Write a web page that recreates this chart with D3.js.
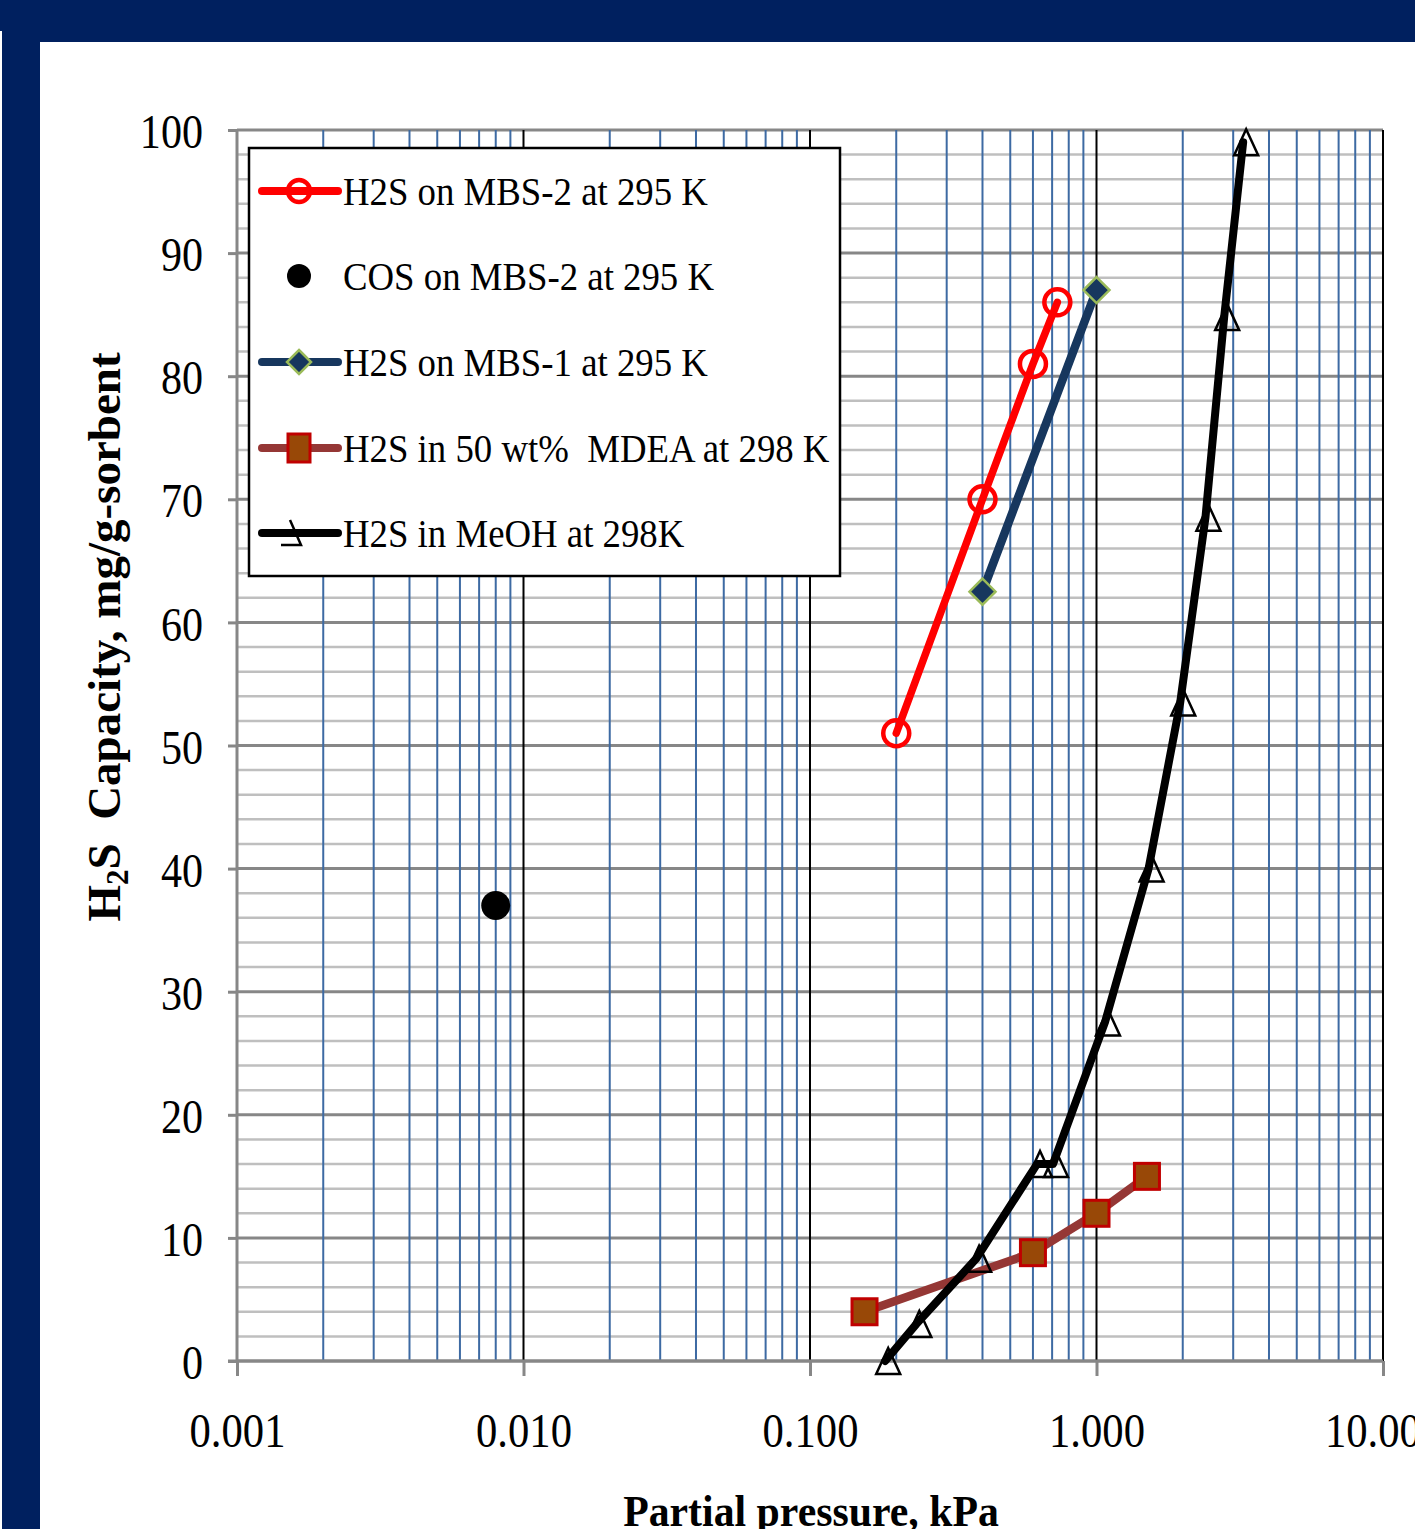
<!DOCTYPE html>
<head lang="en">
<meta charset="utf-8">
<title>H2S capacity vs partial pressure</title>
<style>
body { margin:0; }
svg { display:block; }
text { font-family:"Liberation Serif","Times New Roman",serif; fill:#000; }
</style>
<script src="https://cdn.jsdelivr.net/npm/d3@7"></script>
</head>
<body>
<script>
// values
var mbs2P = [0.2, 0.4, 0.6, 0.73],
    mbs2C = [51, 70, 81, 86];
var cosP = [0.008],
    cosC = [37];
var mbs1P = [0.4, 1.0],
    mbs1C = [62.5, 87];
var mdeaP = [0.155, 0.6, 1.0, 1.5],
    mdeaC = [4, 8.8, 12, 15];
var meohP = [0.183, 0.235, 0.38, 0.62, 0.705, 1.07, 1.52, 1.96, 2.4, 2.79, 3.25],
    meohC = [0, 3, 8.3, 16, 16, 27.5, 40, 53.5, 68.5, 84.8, 99];

var pressureTicks = [0.001, 0.01, 0.1, 1, 10],
    pressureLabels = ["0.001", "0.010", "0.100", "1.000", "10.000"];
var capacityTicks = [0, 10, 20, 30, 40, 50, 60, 70, 80, 90, 100];
var legendLabels = ["H2S on MBS-2 at 295 K", "COS on MBS-2 at 295 K", "H2S on MBS-1 at 295 K",
                    "H2S in 50 wt%  MDEA at 298 K", "H2S in MeOH at 298K"];

var width = 1415, height = 1529;
var pLeft = 237, pRight = 1383, pTop = 130, pBottom = 1361;

var svg = d3.select("body").append("svg")
    .attr("width", width)
    .attr("height", height);

// navy frame
svg.append("rect").attr("width", width).attr("height", height).attr("fill", "#00205f");
svg.append("rect").attr("x", 0).attr("y", 31).attr("width", 2).attr("height", height).attr("fill", "#fff");
svg.append("rect").attr("x", 40).attr("y", 42).attr("width", width).attr("height", height).attr("fill", "#fff");

var x = d3.scaleLog().domain([0.001, 10]).range([pLeft, pRight]);
var y = d3.scaleLinear().domain([0, 100]).range([pBottom, pTop]);

// horizontal grid
var yMinor = d3.range(0, 101, 2).filter(function(v) { return v % 10 != 0; });
svg.append("g").selectAll("line").data(yMinor).enter().append("line")
    .attr("x1", pLeft).attr("x2", pRight)
    .attr("y1", function(d) { return y(d); }).attr("y2", function(d) { return y(d); })
    .style("stroke", "#bfbfbf").style("stroke-width", "2.5px");
svg.append("g").selectAll("line").data(capacityTicks).enter().append("line")
    .attr("x1", pLeft).attr("x2", pRight)
    .attr("y1", function(d) { return y(d); }).attr("y2", function(d) { return y(d); })
    .style("stroke", "#878787").style("stroke-width", "3px");

// vertical grid: blue minor, black decades
var xMinor = x.ticks().filter(function(v) { return pressureTicks.indexOf(v) < 0; });
svg.append("g").selectAll("line").data(xMinor).enter().append("line")
    .attr("x1", function(d) { return x(d); }).attr("x2", function(d) { return x(d); })
    .attr("y1", pTop).attr("y2", pBottom)
    .style("stroke", "#3d6aa3").style("stroke-width", "2px");
svg.append("g").selectAll("line").data(pressureTicks.slice(1)).enter().append("line")
    .attr("x1", function(d) { return x(d); }).attr("x2", function(d) { return x(d); })
    .attr("y1", pTop).attr("y2", pBottom)
    .style("stroke", "#000").style("stroke-width", "2px");

// axes
var yAxis = svg.append("g").attr("transform", "translate(" + pLeft + ",0)")
    .call(d3.axisLeft(y).tickValues(capacityTicks).tickSize(9).tickPadding(0));
var xAxis = svg.append("g").attr("transform", "translate(0," + pBottom + ")")
    .call(d3.axisBottom(x).tickValues(pressureTicks).tickSize(15)
        .tickFormat(function(d, i) { return pressureLabels[i]; }));
[yAxis, xAxis].forEach(function(a) {
    a.select(".domain").style("stroke", "#878787").style("stroke-width", "3px");
    a.selectAll(".tick line").style("stroke", "#878787").style("stroke-width", "3px");
    a.selectAll("text").style("font-family", "'Liberation Serif', serif").style("font-size", "49px").attr("fill", "#000");
});
yAxis.select(".domain").attr("d", "M0," + pBottom + "V" + pTop);
xAxis.select(".domain").attr("d", "M" + (pLeft - 9) + ",0H" + pRight);
yAxis.selectAll("text").attr("x", -34 / 0.86).attr("dy", "0.36em").attr("transform", "scale(0.86,1)");
xAxis.selectAll("text").attr("y", 86).attr("dy", "0").attr("transform", "scale(0.87,1)");

// axis titles
var yTitle = svg.append("text")
    .attr("transform", "translate(120,637) rotate(-90)")
    .attr("text-anchor", "middle")
    .style("font-size", "47px").style("font-weight", "bold")
    .attr("xml:space", "preserve");
yTitle.append("tspan").text("H");
yTitle.append("tspan").text("2").style("font-size", "31px").attr("dy", 8);
yTitle.append("tspan").text("S  Capacity, mg/g-sorbent").attr("dy", -8);

svg.append("text")
    .attr("transform", "translate(811,1526) scale(0.95,1)")
    .attr("text-anchor", "middle")
    .style("font-size", "44px").style("font-weight", "bold")
    .text("Partial pressure, kPa");

// series
function pts(p, c) { return p.map(function(v, i) { return [x(v), y(c[i])]; }); }
var line = d3.line();

var plot = svg.append("g");
function triPath(cx, cy) {
    return "M" + cx + "," + (cy - 13) + "L" + (cx + 12) + "," + (cy + 13) + "L" + (cx - 12) + "," + (cy + 13) + "Z";
}
function diamond(cx, cy, r) {
    return "M" + cx + "," + (cy - r) + "L" + (cx + r) + "," + cy + "L" + cx + "," + (cy + r) + "L" + (cx - r) + "," + cy + "Z";
}

// H2S on MBS-2
plot.append("path").attr("d", line(pts(mbs2P, mbs2C)))
    .style("fill", "none").style("stroke", "#ff0000").style("stroke-width", "7.5px").style("stroke-linecap", "round");
plot.selectAll(".m2").data(pts(mbs2P, mbs2C)).enter().append("circle")
    .attr("cx", function(d) { return d[0]; }).attr("cy", function(d) { return d[1]; }).attr("r", 13)
    .style("fill", "none").style("stroke", "#ff0000").style("stroke-width", "4.5px");

// COS on MBS-2
plot.selectAll(".cos").data(pts(cosP, cosC)).enter().append("circle")
    .attr("cx", function(d) { return d[0]; }).attr("cy", function(d) { return d[1]; }).attr("r", 14.5)
    .style("fill", "#000");

// H2S on MBS-1
plot.append("path").attr("d", line(pts(mbs1P, mbs1C)))
    .style("fill", "none").style("stroke", "#17375e").style("stroke-width", "8.5px").style("stroke-linecap", "round");
plot.selectAll(".m1").data(pts(mbs1P, mbs1C)).enter().append("path")
    .attr("d", function(d) { return diamond(d[0], d[1], 13); })
    .style("fill", "#17375e").style("stroke", "#9bbb59").style("stroke-width", "2.5px");

// H2S in MDEA
plot.append("path").attr("d", line(pts(mdeaP, mdeaC)))
    .style("fill", "none").style("stroke", "#953735").style("stroke-width", "8.5px").style("stroke-linecap", "round");
plot.selectAll(".md").data(pts(mdeaP, mdeaC)).enter().append("rect")
    .attr("x", function(d) { return d[0] - 12.5; }).attr("y", function(d) { return d[1] - 13; })
    .attr("width", 25).attr("height", 26)
    .style("fill", "#984807").style("stroke", "#c00000").style("stroke-width", "3px");

// H2S in MeOH
plot.append("path").attr("d", line(pts(meohP, meohC)))
    .style("fill", "none").style("stroke", "#000").style("stroke-width", "8px")
    .style("stroke-linecap", "round").style("stroke-linejoin", "round");
plot.selectAll(".me").data(pts(meohP, meohC)).enter().append("path")
    .attr("d", function(d) { return triPath(d[0] + 3, d[1]); })
    .style("fill", "none").style("stroke", "#000").style("stroke-width", "2.5px");

// legend
var lg = svg.append("g");
lg.append("rect").attr("x", 249).attr("y", 148).attr("width", 591).attr("height", 428)
    .style("fill", "#fff").style("stroke", "#000").style("stroke-width", "2.5px");
var rowY = [191, 276, 362, 448, 533];
var sx1 = 262, sx2 = 338, mx = 299;
lg.append("line").attr("x1", sx1).attr("x2", sx2).attr("y1", rowY[0]).attr("y2", rowY[0])
    .style("stroke", "#ff0000").style("stroke-width", "8px").style("stroke-linecap", "round");
lg.append("circle").attr("cx", mx).attr("cy", rowY[0]).attr("r", 11)
    .style("fill", "none").style("stroke", "#ff0000").style("stroke-width", "4.5px");
lg.append("circle").attr("cx", mx).attr("cy", rowY[1]).attr("r", 12).style("fill", "#000");
lg.append("line").attr("x1", sx1).attr("x2", sx2).attr("y1", rowY[2]).attr("y2", rowY[2])
    .style("stroke", "#17375e").style("stroke-width", "8px").style("stroke-linecap", "round");
lg.append("path").attr("d", diamond(mx, rowY[2], 12))
    .style("fill", "#17375e").style("stroke", "#9bbb59").style("stroke-width", "2.5px");
lg.append("line").attr("x1", sx1).attr("x2", sx2).attr("y1", rowY[3]).attr("y2", rowY[3])
    .style("stroke", "#953735").style("stroke-width", "8px").style("stroke-linecap", "round");
lg.append("rect").attr("x", mx - 11).attr("y", rowY[3] - 14).attr("width", 22).attr("height", 28)
    .style("fill", "#984807").style("stroke", "#c00000").style("stroke-width", "3px");
lg.append("line").attr("x1", sx1).attr("x2", sx2).attr("y1", rowY[4]).attr("y2", rowY[4])
    .style("stroke", "#000").style("stroke-width", "8px").style("stroke-linecap", "round");
lg.append("path").attr("d", "M" + (mx - 9) + "," + (rowY[4] - 13) + "L" + (mx + 2) + "," + (rowY[4] + 12) + "L" + (mx - 18) + "," + (rowY[4] + 12))
    .style("fill", "none").style("stroke", "#000").style("stroke-width", "2.5px");

lg.selectAll(".lt").data(legendLabels).enter().append("text")
    .attr("transform", function(d, i) { return "translate(343," + (rowY[i] + 14) + ") scale(0.92,1)"; })
    .attr("xml:space", "preserve")
    .style("font-size", "40px")
    .text(function(d) { return d; });
</script>
</body>
</html>
